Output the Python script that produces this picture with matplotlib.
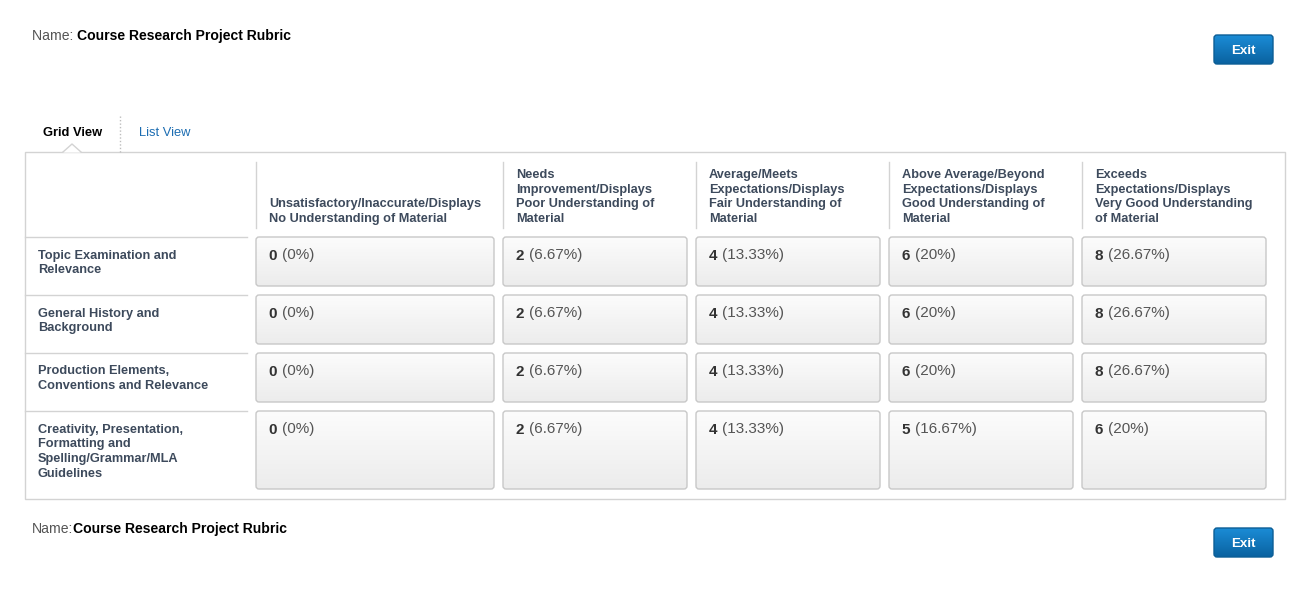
import matplotlib
matplotlib.use("Agg")
import matplotlib.pyplot as plt
import numpy as np
from matplotlib.patches import FancyBboxPatch, Rectangle, Polygon
from matplotlib.colors import LinearSegmentedColormap

# rubric data
rubric_name = "Course Research Project Rubric"
levels = [
    "Unsatisfactory/Inaccurate/Displays\nNo Understanding of Material",
    "Needs\nImprovement/Displays\nPoor Understanding of\nMaterial",
    "Average/Meets\nExpectations/Displays\nFair Understanding of\nMaterial",
    "Above Average/Beyond\nExpectations/Displays\nGood Understanding of\nMaterial",
    "Exceeds\nExpectations/Displays\nVery Good Understanding\nof Material",
]
criteria = [
    "Topic Examination and\nRelevance",
    "General History and\nBackground",
    "Production Elements,\nConventions and Relevance",
    "Creativity, Presentation,\nFormatting and\nSpelling/Grammar/MLA\nGuidelines",
]
counts = [
    [0, 2, 4, 6, 8],
    [0, 2, 4, 6, 8],
    [0, 2, 4, 6, 8],
    [0, 2, 4, 5, 6],
]
percents = [
    ["0%", "6.67%", "13.33%", "20%", "26.67%"],
    ["0%", "6.67%", "13.33%", "20%", "26.67%"],
    ["0%", "6.67%", "13.33%", "20%", "26.67%"],
    ["0%", "6.67%", "13.33%", "16.67%", "20%"],
]

W, H = 1302, 589
plt.rcParams['font.family'] = ['Liberation Sans', 'DejaVu Sans']

fig = plt.figure(figsize=(W / 100, H / 100), dpi=100)
ax = fig.add_axes([0, 0, 1, 1])
ax.set_xlim(0, W)
ax.set_ylim(H, 0)
ax.axis('off')
renderer = fig.canvas.get_renderer()

slate = '#3d4a5c'
line_c = '#d3d3d3'
cell_cmap = LinearSegmentedColormap.from_list('cell', ['#fcfcfc', '#ececec'])
btn_cmap = LinearSegmentedColormap.from_list('btn', ['#1b8cd6', '#0a62a0'])
grad = np.linspace(0, 1, 64).reshape(-1, 1)


def gradient_box(x, y, w, h, cmap, edge, r=3):
    box = FancyBboxPatch((x, y), w, h, boxstyle=f"round,pad=0,rounding_size={r}",
                         facecolor='none', edgecolor=edge, linewidth=1, zorder=3)
    ax.add_patch(box)
    im = ax.imshow(grad, cmap=cmap, extent=(x, x + w, y + h, y), aspect='auto',
                   origin='upper', zorder=2, interpolation='bilinear')
    im.set_clip_path(box)


def two_part(x, y, first, second, size, c1, w1, c2, w2):
    # two runs of text on one baseline
    t = ax.text(x, y, first, fontsize=size, color=c1, fontweight=w1,
                va='baseline', ha='left', zorder=4)
    bb = t.get_window_extent(renderer)
    x_end = ax.transData.inverted().transform((bb.x1, bb.y0))[0]
    ax.text(x_end, y, second, fontsize=size, color=c2, fontweight=w2,
            va='baseline', ha='left', zorder=4)


def exit_button(y):
    gradient_box(1214, y, 59, 29, btn_cmap, '#0b5e96')
    ax.text(1243.5, y + 16, "Exit", fontsize=9.6, fontweight='bold', color='white',
            ha='center', va='center', zorder=4)


# top header
two_part(32, 40, "Name: ", rubric_name, 10.1, '#555555', 'normal', 'black', 'bold')
exit_button(35)

# tabs
ax.text(43, 133.5, "Grid View", fontsize=9.3, fontweight='bold', color='black', va='center')
ax.text(139, 133.5, "List View", fontsize=9.3, color='#1c6db2', va='center')
ax.plot([120, 120], [116, 152], color='#bdbdbd', lw=1, ls=(0, (1, 1.5)))

# outer box with notch
ax.add_patch(Rectangle((25, 152), 1260, 347, facecolor='white', edgecolor=line_c, lw=1, zorder=1))
ax.add_patch(Polygon([(63, 152.6), (72, 144), (81, 152.6)], closed=True,
                     facecolor='white', edgecolor='none', zorder=1.5))
ax.plot([63, 72, 81], [152, 144, 152], color=line_c, lw=1, zorder=1.6)

# grid geometry
col_left = [256, 503, 696, 889, 1082]
col_w = [238, 184, 184, 184, 184]
row_top = [237, 295, 353, 411]
row_h = [49, 49, 49, 78]

# column headers
for j, lab in enumerate(levels):
    ax.plot([col_left[j], col_left[j]], [162, 228], color=line_c, lw=1)
    ax.text(col_left[j] + 13, 225, lab, fontsize=9.2, fontweight='bold', color=slate,
            ha='left', va='bottom', linespacing=1.3)

# rows
for i, crit in enumerate(criteria):
    ax.plot([25, 247], [row_top[i], row_top[i]], color=line_c, lw=1)
    ax.text(38, row_top[i] + 12.5, crit, fontsize=9.2, fontweight='bold', color=slate,
            ha='left', va='top', linespacing=1.3)
    for j in range(len(levels)):
        gradient_box(col_left[j], row_top[i], col_w[j], row_h[i], cell_cmap, '#c8c8c8')
        two_part(col_left[j] + 13, row_top[i] + 22.5, f"{counts[i][j]} ",
                 f"({percents[i][j]})", 11, '#333333', 'bold', '#555555', 'normal')

# bottom header
two_part(32, 533, "Name:", rubric_name, 10.1, '#555555', 'normal', 'black', 'bold')
exit_button(528)

fig.savefig("out.png", dpi=100)
